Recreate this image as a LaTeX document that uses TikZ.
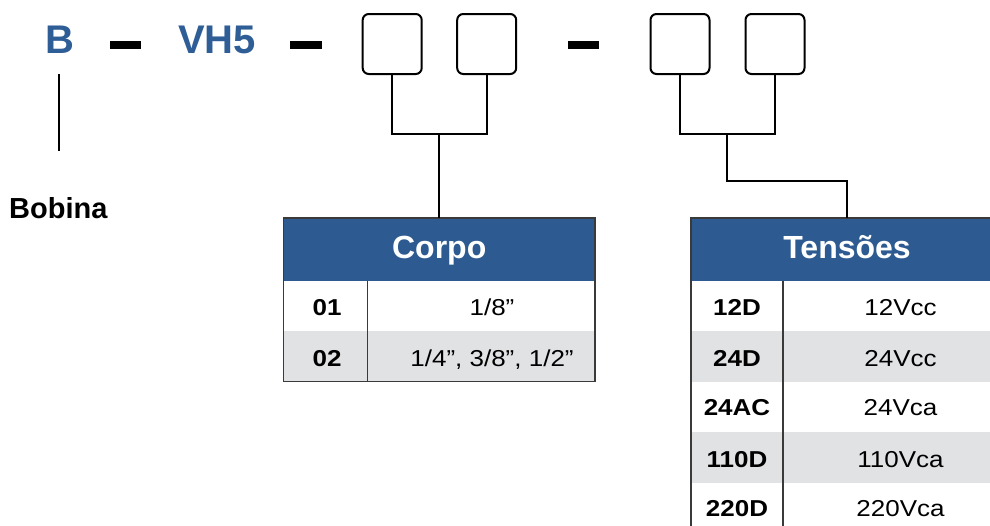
\documentclass[tikz,border=0pt]{standalone}
\usepackage{fontspec}
\setmainfont{Liberation Sans}
\newfontfamily\bodyfont[FakeStretch=1.13]{Liberation Sans}
\definecolor{hblue}{HTML}{2D5B91}
\definecolor{tblue}{HTML}{2F5E97}
\definecolor{rowgrey}{HTML}{E1E2E4}
\definecolor{edgegrey}{HTML}{3A3A3A}
\tikzset{
  titletxt/.style={inner sep=0, anchor=base, text=tblue, font=\fontsize{40}{40}\selectfont\bfseries},
  dashbar/.style={fill=black, draw=none},
  codebox/.style={draw=black, line width=2pt, rounded corners=6pt, minimum width=59pt, minimum height=60pt, inner sep=0},
  conn/.style={draw=black, line width=2.3pt},
  headbox/.style={fill=hblue, draw=none, minimum width=312pt, minimum height=63pt, inner sep=0},
  headtxt/.style={inner sep=0, anchor=base, text=white, font=\fontsize{32}{32}\selectfont\bfseries},
  keytxt/.style={inner sep=0, anchor=base, font=\bodyfont\fontsize{23}{23}\selectfont\bfseries},
  valtxt/.style={inner sep=0, anchor=base, font=\bodyfont\fontsize{23}{23}\selectfont},
  tborder/.style={draw=edgegrey, line width=1.5pt},
}
\begin{document}
\begin{tikzpicture}[x=1pt,y=-1pt]
\useasboundingbox (0,0) rectangle (990,525);
\clip (0,0) rectangle (990,525);

% title
\node[titletxt] (tB) at (60,53) {B};
\node[titletxt] (tVH) at (217,53) {VH5};
\fill[dashbar] (110,41) rectangle (141,49);
\fill[dashbar] (290,41) rectangle (322,49);
\fill[dashbar] (568,41) rectangle (599,49);

% code boxes
\node[codebox] (b1) at (392.2,44) {};
\node[codebox] (b2) at (486.7,44) {};
\node[codebox] (b3) at (680,44) {};
\node[codebox] (b4) at (775,44) {};

% Bobina
\coordinate (bl1) at (59,74);
\coordinate (bl2) at (59,151);
\draw[line width=2.2pt] (bl1) -- (bl2);
\node[inner sep=0, anchor=base west, font=\fontsize{29}{29}\selectfont\bfseries] (bob) at (9,218.5) {Bobina};

% Corpo table
\fill[white] (283.3,281) rectangle (595,331);
\fill[rowgrey] (283.3,331) rectangle (595,381.7);
\node[headbox] (corpoH) at (439.2,249.5) {};
\draw[tborder] (283.3,218) rectangle (595,381.7);
\draw[tborder] (367.3,281) -- (367.3,381.7);
\node[headtxt] (corpoT) at (439.2,258.5) {Corpo};
\node[keytxt] (c01) at (327,315) {01};
\node[valtxt] (v01) at (492,315) {1/8”};
\node[keytxt] (c02) at (327,366.5) {02};
\node[valtxt] (v02) at (492,366.5) {1/4”, 3/8”, 1/2”};

% Tensoes table
\fill[rowgrey] (691,331) rectangle (1003,381.7);
\fill[rowgrey] (691,432.3) rectangle (1003,482.7);
\node[headbox] (tensH) at (847,249.5) {};
\draw[tborder] (1003,218) -- (691,218) -- (691,540);
\draw[tborder] (783,281) -- (783,540);
\node[headtxt] (tensT) at (847,258.5) {Tensões};
\node[keytxt] (k1) at (737,315) {12D};
\node[valtxt] (w1) at (900.5,315) {12Vcc};
\node[keytxt] (k2) at (737,366.5) {24D};
\node[valtxt] (w2) at (900.5,366.5) {24Vcc};
\node[keytxt] (k3) at (737,415.5) {24AC};
\node[valtxt] (w3) at (900.5,415.5) {24Vca};
\node[keytxt] (k4) at (737,467.5) {110D};
\node[valtxt] (w4) at (900.5,467.5) {110Vca};
\node[keytxt] (k5) at (737,516) {220D};
\node[valtxt] (w5) at (900.5,516) {220Vca};

% connectors
\coordinate (j1) at (439.2,134);
\coordinate (j2) at (727.3,134);
\coordinate (k) at (847,181);
\draw[conn] (b1.south) |- (j1) -| (b2.south);
\draw[conn] (j1) -- (corpoH.north);
\draw[conn] (b3.south) |- (j2) -| (b4.south);
\draw[conn] (j2) |- (k) -- (tensH.north);
\end{tikzpicture}
\end{document}
